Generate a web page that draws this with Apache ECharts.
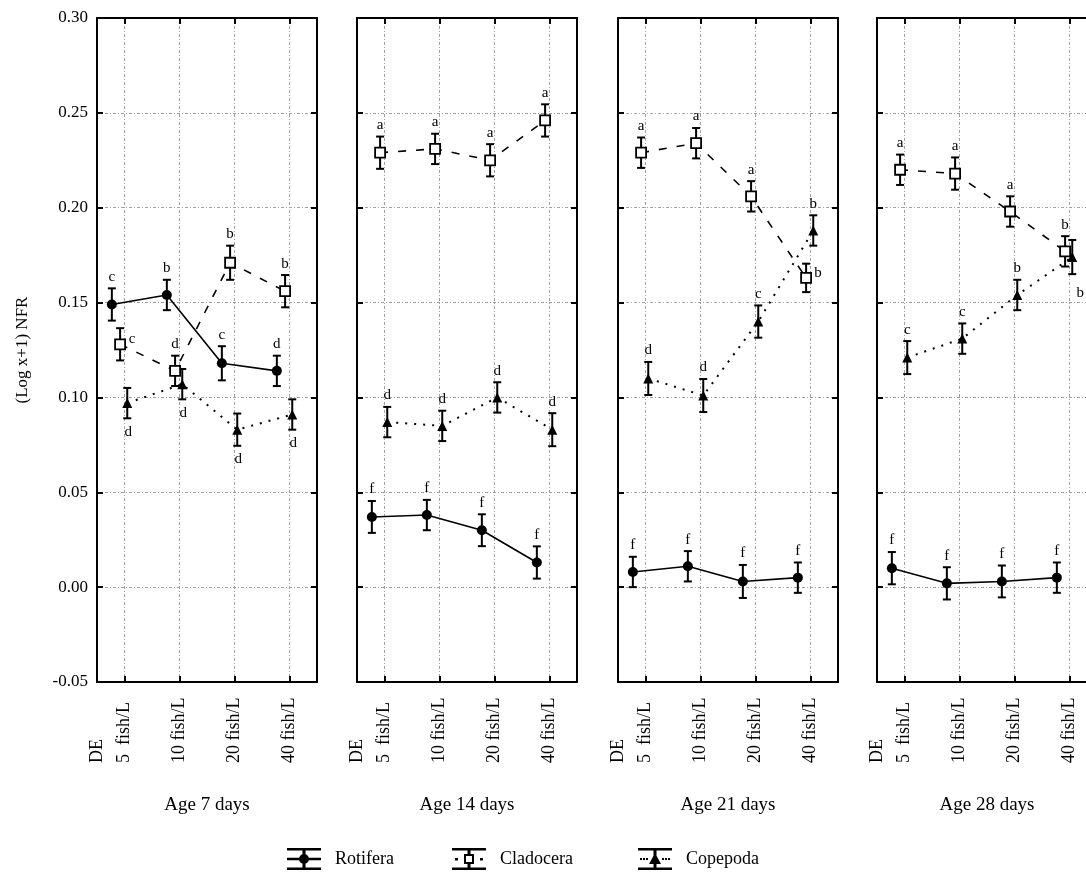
<!DOCTYPE html>
<html><head><meta charset="utf-8">
<script src="https://cdn.jsdelivr.net/npm/echarts@6/dist/echarts.min.js"></script>
<style>html,body{margin:0;padding:0;background:#fff}#c{width:1086px;height:873px}</style>
</head><body><div id="c"></div>
<script>
// ---------- data ----------
const categories = ['5  fish/L', '10 fish/L', '20 fish/L', '40 fish/L'];
const baseLabel = 'DE';
const panelTitles = ['Age 7 days', 'Age 14 days', 'Age 21 days', 'Age 28 days'];
const yMin = -0.05, yMax = 0.30, yStep = 0.05;
const yName = '(Log x+1) NFR';
const seriesNames = ['Rotifera', 'Cladocera', 'Copepoda'];

const rotMean = [[0.149, 0.154, 0.118, 0.114], [0.037, 0.038, 0.030, 0.013], [0.008, 0.011, 0.003, 0.005], [0.010, 0.002, 0.003, 0.005]];
const rotErr  = [[0.0085, 0.008, 0.009, 0.008], [0.0084, 0.008, 0.0084, 0.0085], [0.008, 0.008, 0.0087, 0.008], [0.0085, 0.0085, 0.0084, 0.008]];
const rotLetters = [['c', 'b', 'c', 'd'], ['f', 'f', 'f', 'f'], ['f', 'f', 'f', 'f'], ['f', 'f', 'f', 'f']];

const cladMean = [[0.128, 0.114, 0.171, 0.156], [0.229, 0.231, 0.225, 0.246], [0.229, 0.234, 0.206, 0.163], [0.220, 0.218, 0.198, 0.177]];
const cladErr  = [[0.0085, 0.008, 0.009, 0.0085], [0.0085, 0.008, 0.0085, 0.0085], [0.008, 0.008, 0.008, 0.0075], [0.008, 0.0085, 0.008, 0.008]];
const cladLetters = [['c', 'd', 'b', 'b'], ['a', 'a', 'a', 'a'], ['a', 'a', 'a', 'b'], ['a', 'a', 'a', 'b']];

const copMean = [[0.097, 0.107, 0.083, 0.091], [0.087, 0.085, 0.100, 0.083], [0.110, 0.101, 0.140, 0.188], [0.121, 0.131, 0.154, 0.174]];
const copErr  = [[0.008, 0.008, 0.0085, 0.008], [0.008, 0.008, 0.008, 0.0087], [0.0087, 0.0087, 0.0085, 0.008], [0.0087, 0.008, 0.008, 0.009]];
const copLetters = [['d', 'd', 'd', 'd'], ['d', 'd', 'd', 'd'], ['d', 'd', 'c', 'b'], ['c', 'c', 'b', 'b']];

// letter placement (T = above bar, B = below bar, R = right, BR = below right)
const rotPlace  = [['T','T','T','T'], ['T','T','T','T'], ['T','T','T','T'], ['T','T','T','T']];
const cladPlace = [['R','T','T','T'], ['T','T','T','T'], ['T','T','T','R'], ['T','T','T','T']];
const copPlace  = [['B','B','B','B'], ['T','T','T','T'], ['T','T','T','T'], ['T','T','T','BR']];

// ---------- style / layout ----------
const FONT = '"Liberation Serif","Times New Roman",serif';
const gridLeft = [97, 357, 618, 877];
const PW = 220, TOP = 18, PH = 664;
const GRIDC = '#a0a0a0';

const species = [
  { name: seriesNames[0], mean: rotMean, err: rotErr, letters: rotLetters, place: rotPlace, off: -0.46,
    symbol: 'circle', size: 10, fill: '#000', line: { type: 'solid', width: 1.6 } },
  { name: seriesNames[1], mean: cladMean, err: cladErr, letters: cladLetters, place: cladPlace, off: -0.16,
    symbol: 'rect', size: 10, fill: '#fff', line: { type: [8, 10], width: 1.6 } },
  { name: seriesNames[2], mean: copMean, err: copErr, letters: copLetters, place: copPlace, off: 0.1,
    symbol: 'triangle', size: 10, fill: '#000', line: { type: [2, 7], width: 2 } }
];

const catX = i => 2 * i + 1;

const grids = [], xAxes = [], yAxes = [], series = [];
for (let p = 0; p < 4; p++) {
  grids.push({ left: gridLeft[p], width: PW, top: TOP, height: PH, containLabel: false, outerBoundsMode: 'none' });
  // bottom x axis
  xAxes.push({
    type: 'value', gridIndex: p, min: 0, max: 8, position: 'bottom',
    name: panelTitles[p], nameLocation: 'middle', nameGap: 114,
    nameTextStyle: { fontFamily: FONT, fontSize: 19, color: '#000' },
    axisLine: { show: true, onZero: false, lineStyle: { color: '#000', width: 2 } },
    axisTick: { show: true, inside: true, length: 6, customValues: [1, 3, 5, 7], lineStyle: { color: '#000', width: 2 } },
    axisLabel: {
      show: true, rotate: 90, align: 'left', margin: 81, customValues: [0, 1, 3, 5, 7],
      fontFamily: FONT, fontSize: 18, color: '#000',
      formatter: v => v === 0 ? baseLabel : categories[(v - 1) / 2]
    },
    splitLine: { show: true, lineStyle: { color: GRIDC, width: 1, type: [3, 2, 1, 2] } }
  });
  // top x axis (frame)
  xAxes.push({
    type: 'value', gridIndex: p, min: 0, max: 8, position: 'top',
    axisLine: { show: true, onZero: false, lineStyle: { color: '#000', width: 2 } },
    axisTick: { show: true, inside: true, length: 6, customValues: [1, 3, 5, 7], lineStyle: { color: '#000', width: 2 } },
    axisLabel: { show: false }, splitLine: { show: false }
  });
  // left y axis
  yAxes.push({
    type: 'value', gridIndex: p, min: yMin, max: yMax, interval: yStep, position: 'left',
    name: p === 0 ? yName : '', nameLocation: 'middle', nameGap: 66, nameRotate: 90,
    nameTextStyle: { fontFamily: FONT, fontSize: 17, color: '#000' },
    axisLine: { show: true, onZero: false, lineStyle: { color: '#000', width: 2 } },
    axisTick: { show: true, inside: true, length: 6, lineStyle: { color: '#000', width: 2 } },
    axisLabel: { show: p === 0, margin: 9, fontFamily: FONT, fontSize: 17, color: '#000', formatter: v => v.toFixed(2) },
    splitLine: { show: true, lineStyle: { color: GRIDC, width: 1, type: [3, 2, 1, 2] } }
  });
  // right y axis (frame)
  yAxes.push({
    type: 'value', gridIndex: p, min: yMin, max: yMax, interval: yStep, position: 'right',
    axisLine: { show: true, onZero: false, lineStyle: { color: '#000', width: 2 } },
    axisTick: { show: true, inside: true, length: 6, lineStyle: { color: '#000', width: 2 } },
    axisLabel: { show: false }, splitLine: { show: false }
  });

  species.forEach(s => {
    const pts = s.mean[p].map((v, i) => [catX(i) + s.off, v, s.err[p][i], i]);
    // error bars + significance letters
    series.push({
      type: 'custom', name: s.name, xAxisIndex: 2 * p, yAxisIndex: 2 * p, z: 3,
      data: pts, silent: true,
      renderItem: (params, api) => {
        const x = api.value(0), m = api.value(1), e = api.value(2), i = api.value(3);
        const t = api.coord([x, m + e]), b = api.coord([x, m - e]), c = api.coord([x, m]);
        const cw = 4;
        const ls = { stroke: '#000', lineWidth: 2 };
        const pl = s.place[p][i];
        let tx, ty, va = 'middle';
        if (pl === 'T') { tx = t[0]; ty = t[1] - 4; va = 'bottom'; }
        else if (pl === 'B') { tx = b[0] + 1; ty = b[1] + 6; va = 'top'; }
        else if (pl === 'R') { tx = c[0] + 12; ty = c[1] - 5; }
        else { tx = b[0] + 8; ty = b[1] + 19; }
        return {
          type: 'group',
          children: [
            { type: 'line', shape: { x1: t[0], y1: t[1], x2: b[0], y2: b[1] }, style: ls },
            { type: 'line', shape: { x1: t[0] - cw, y1: t[1], x2: t[0] + cw, y2: t[1] }, style: ls },
            { type: 'line', shape: { x1: b[0] - cw, y1: b[1], x2: b[0] + cw, y2: b[1] }, style: ls },
            { type: 'text', style: { text: s.letters[p][i], x: tx, y: ty, align: 'center', verticalAlign: va,
                font: '15px ' + FONT, fill: '#000' } }
          ]
        };
      }
    });
    // mean line + markers
    series.push({
      type: 'line', name: s.name, xAxisIndex: 2 * p, yAxisIndex: 2 * p, z: 5,
      data: pts.map(d => [d[0], d[1]]),
      symbol: s.symbol, symbolSize: s.size, showSymbol: true,
      itemStyle: { color: s.fill, borderColor: '#000', borderWidth: s.fill === '#fff' ? 1.8 : 0 },
      lineStyle: { color: '#000', width: s.line.width, type: s.line.type },
      emphasis: { disabled: true }, animation: false
    });
  });
}

// legend icons (34 x 22 boxes): error-bar glyph with series marker
const rotIcon = 'path://M0 0H34V2.5H0Z M0 19.5H34V22H0Z M15.5 0H18.5V22H15.5Z M0 9.75H34V12.25H0Z M12 11A5 5 0 1 1 22 11A5 5 0 1 1 12 11Z';
const cladIcon = 'path://M0 0H34V2.5H0Z M0 19.5H34V22H0Z M15.5 0H18.5V6H15.5Z M15.5 16H18.5V22H15.5Z M3 10H6V12.5H3Z M28 10H31V12.5H28Z M12 6H22V8H12Z M12 14H22V16H12Z M12 6H14V16H12Z M20 6H22V16H20Z';
const copIcon = 'path://M0 0H34V2.5H0Z M0 19.5H34V22H0Z M15.5 0H18.5V22H15.5Z M2 10H4V12H2Z M5 10H7V12H5Z M8 10H10V12H8Z M24 10H26V12H24Z M27 10H29V12H27Z M30 10H32V12H30Z M11 16L17 5L23 16Z';
const icons = [rotIcon, cladIcon, copIcon];
const legendLeft = [287, 452, 638];
const legends = seriesNames.map((n, k) => ({
  data: [{ name: n, icon: icons[k] }], left: legendLeft[k], top: 848, padding: 0,
  itemWidth: 34, itemHeight: 22, selectedMode: false,
  itemStyle: { color: '#000', borderWidth: 0 },
  textStyle: { fontFamily: FONT, fontSize: 18, color: '#000', padding: [0, 0, 0, 9] }
}));

const chart = echarts.init(document.getElementById('c'));
chart.setOption({
  animation: false,
  backgroundColor: '#fff',
  grid: grids, xAxis: xAxes, yAxis: yAxes,
  legend: legends,
  series: series
});
</script>
</body></html>
